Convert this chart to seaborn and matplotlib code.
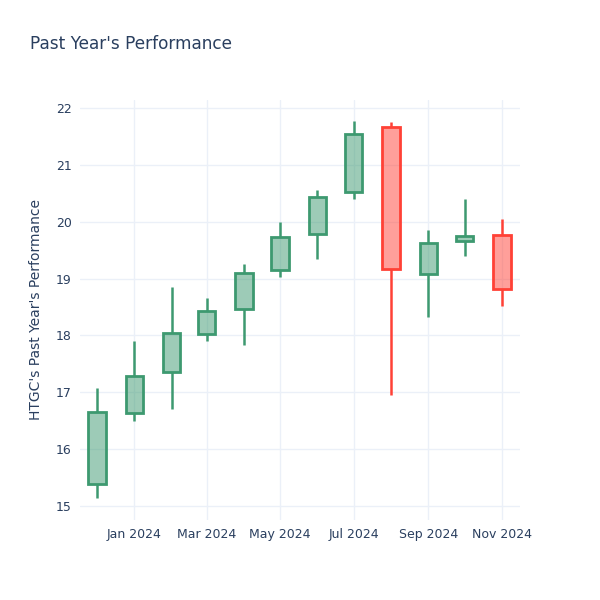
import pandas as pd
import numpy as np
import matplotlib
matplotlib.use("Agg")
import matplotlib.pyplot as plt
import matplotlib.dates as mdates
import seaborn as sns

# ==========================================================
# DATA (monthly OHLC)
# ==========================================================

months = ["2023-12-01", "2024-01-01", "2024-02-01", "2024-03-01",
          "2024-04-01", "2024-05-01", "2024-06-01", "2024-07-01",
          "2024-08-01", "2024-09-01", "2024-10-01", "2024-11-01"]

open_ = [15.39, 16.63, 17.35, 18.03, 18.47, 19.15, 19.78, 20.53, 21.66, 19.08, 19.66, 19.76]
high = [17.08, 17.91, 18.86, 18.66, 19.25, 19.99, 20.55, 21.77, 21.75, 19.85, 20.40, 20.05]
low = [15.14, 16.50, 16.71, 17.90, 17.83, 19.02, 19.34, 20.40, 16.95, 18.33, 19.40, 18.51]
close = [16.65, 17.29, 18.04, 18.43, 19.10, 19.73, 20.43, 21.55, 19.16, 19.63, 19.75, 18.82]

tick_dates = ["2024-01-01", "2024-03-01", "2024-05-01", "2024-07-01", "2024-09-01", "2024-11-01"]
tick_labels = ["Jan 2024", "Mar 2024", "May 2024", "Jul 2024", "Sep 2024", "Nov 2024"]

df = pd.DataFrame({
    "date": pd.to_datetime(months),
    "open": open_,
    "high": high,
    "low": low,
    "close": close,
})

# ==========================================================
# STYLE
# ==========================================================

sns.set_style("white")
plt.rcParams["font.family"] = ["DejaVu Sans"]

text_color = "#2a3f5f"
grid_color = "#EBF0F8"
up_color = "#3D9970"
down_color = "#FF4136"

fig = plt.figure(figsize=(6, 6), dpi=100)
ax = fig.add_axes([80 / 600, 80 / 600, 440 / 600, 420 / 600])

# ==========================================================
# CANDLES
# ==========================================================

for _, row in df.iterrows():
    up = row["close"] >= row["open"]
    color = up_color if up else down_color
    lo_body = min(row["open"], row["close"])
    hi_body = max(row["open"], row["close"])
    x = mdates.date2num(row["date"])

    ax.vlines(x, row["low"], lo_body, color=color, linewidth=1.8, zorder=3)
    ax.vlines(x, hi_body, row["high"], color=color, linewidth=1.8, zorder=3)
    ax.bar(x, hi_body - lo_body, bottom=lo_body, width=14.5,
           facecolor=matplotlib.colors.to_rgba(color, 0.5),
           edgecolor=color, linewidth=2, zorder=4)

# ==========================================================
# AXES
# ==========================================================

ax.set_xlim(mdates.date2num(pd.Timestamp("2023-11-17")),
            mdates.date2num(pd.Timestamp("2024-11-16")))
ax.set_ylim(14.754, 22.14)

ax.set_xticks(mdates.date2num(pd.to_datetime(tick_dates)))
ax.set_xticklabels(tick_labels)
ax.set_yticks(np.arange(15, 23, 1))

ax.grid(True, color=grid_color, linewidth=1)
ax.set_axisbelow(True)
for spine in ax.spines.values():
    spine.set_visible(False)

ax.tick_params(axis="both", length=0, labelsize=9, colors=text_color, pad=6)

ax.set_ylabel("HTGC's Past Year's Performance", fontsize=10, color=text_color, labelpad=9)

fig.text(30 / 600, 1 - 44 / 600, "Past Year's Performance",
         fontsize=12.2, color=text_color, va="center", ha="left")

fig.savefig("out.png", dpi=100, facecolor="white")
